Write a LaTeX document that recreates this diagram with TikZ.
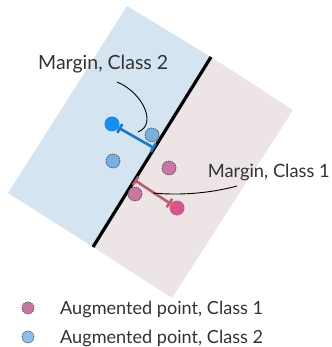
\documentclass[tikz,border=0pt]{standalone}
\usepackage{fontspec}
\setmainfont{Lato}
\usetikzlibrary{arrows.meta,calc}
\definecolor{bgblue}{RGB}{213,228,241}
\definecolor{bgpink}{RGB}{237,228,230}
\definecolor{dotblue}{RGB}{22,142,242}
\definecolor{lineblue}{RGB}{28,120,198}
\definecolor{augblue}{RGB}{118,176,226}
\definecolor{legblue}{RGB}{140,192,236}
\definecolor{dotpink}{RGB}{213,86,140}
\definecolor{linepink}{RGB}{184,92,112}
\definecolor{augpink}{RGB}{200,120,160}
\definecolor{txt}{RGB}{50,50,50}
\tikzset{
  bigdot/.style={circle,inner sep=0pt,minimum size=15pt},
  augdot/.style={circle,inner sep=0pt,minimum size=14pt,draw=black!70,line width=0.8pt,dash pattern=on 1.2pt off 1pt},
  legdot/.style={circle,inner sep=0pt,minimum size=12pt,draw=black!70,line width=0.8pt,dash pattern=on 1.2pt off 1pt},
  marginline/.style={line width=2.6pt,{Bar[width=10pt,line width=2.6pt]}-{Bar[width=10pt,line width=2.6pt]}},
  leader/.style={line width=0.9pt,black},
  lbl/.style={text=txt,font=\fontsize{19.5}{23}\selectfont,inner sep=0pt,anchor=base west},
  leg/.style={text=txt,font=\fontsize{18.1}{22}\selectfont,inner sep=0pt,anchor=base west}
}
\begin{document}
\begin{tikzpicture}[x=1pt,y=-1pt]
\useasboundingbox (0,0) rectangle (331,347);
% regions
\fill[bgblue] (127,6) -- (211,57) -- (93,247) -- (8,193) -- cycle;
\fill[bgpink] (211,57) -- (293,110) -- (172,298) -- (93,247) -- cycle;
% separating line
\coordinate (A) at (211,57);
\coordinate (B) at (93,247);
\draw[line width=3.2pt] (A) -- (B);
\coordinate (blueend) at ($(A)!0.48!(B)$);
\coordinate (pinkend) at ($(A)!0.648!(B)$);
% dots
\node[bigdot,fill=dotblue] (bigblue) at (112,124) {};
\node[bigdot,fill=dotpink] (bigpink) at (177,208) {};
\node[augdot,fill=augblue] (ab1) at (152,135) {};
\node[augdot,fill=augblue] (ab2) at (113,161) {};
\node[augdot,fill=augpink] (ap1) at (169,168) {};
\node[augdot,fill=augpink] (ap2) at (135,194) {};
% margins
\draw[marginline,lineblue] (bigblue) -- (blueend);
\draw[marginline,linepink] (pinkend) -- (bigpink);
% labels
\node[lbl] (l2) at (38,70) {Margin, Class 2};
\node[lbl,font=\fontsize{18.3}{22}\selectfont,anchor=base east] (l1) at (330,178) {Margin, Class 1};
\coordinate (c2s) at (117,82);
\coordinate (c2e) at (138,132);
\coordinate (c1s) at (153,193);
\coordinate (c1e) at (237,186);
\draw[leader] (c2s) .. controls (142,92) and (158,124) .. (c2e);
\draw[leader] (c1s) .. controls (185,196) and (215,192) .. (c1e);
% legend
\node[legdot,fill=augpink] (lp) at (28,308) {};
\node[legdot,fill=legblue] (lb) at (28,337) {};
\node[leg] (t1) at (60,314) {Augmented point, Class 1};
\node[leg] (t2) at (60,343) {Augmented point, Class 2};
\end{tikzpicture}
\end{document}
